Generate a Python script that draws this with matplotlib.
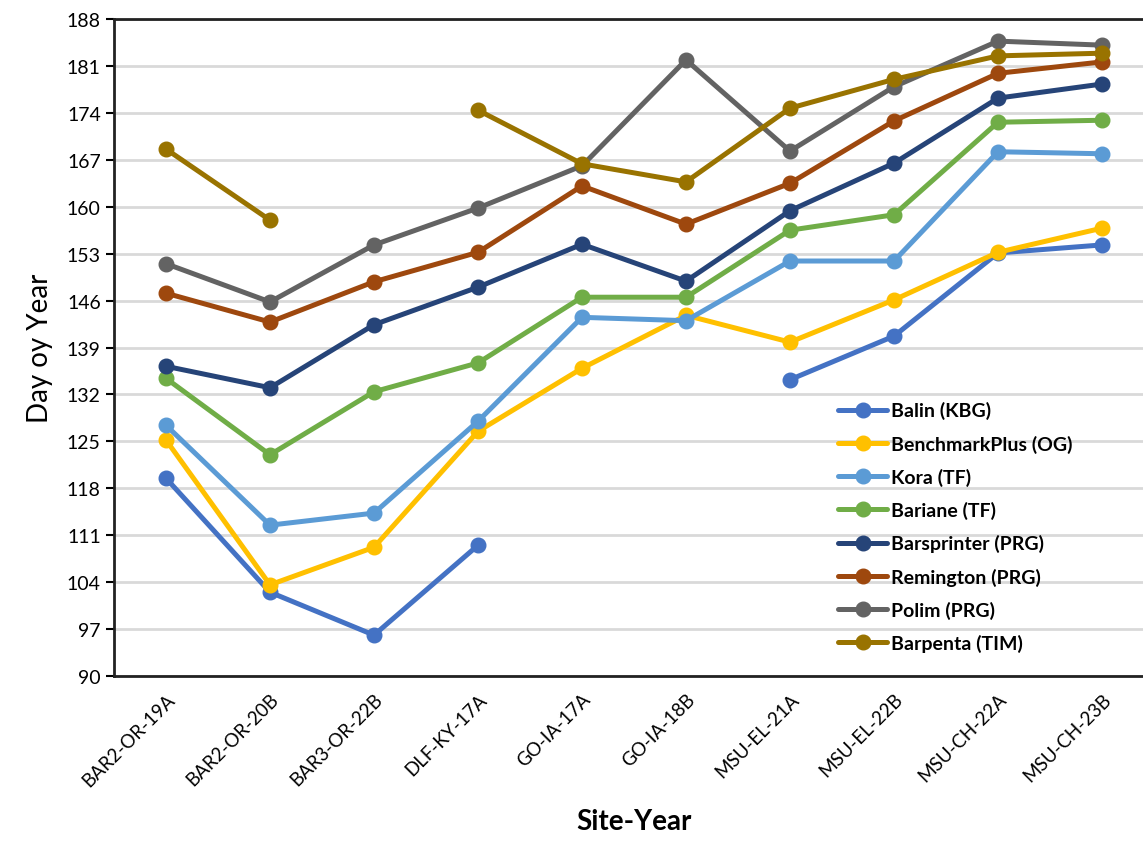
import matplotlib
matplotlib.use('Agg')
import matplotlib.pyplot as plt
import numpy as np

# data (nan = no value)
site_years = ['BAR2-OR-19A', 'BAR2-OR-20B', 'BAR3-OR-22B', 'DLF-KY-17A', 'GO-IA-17A',
              'GO-IA-18B', 'MSU-EL-21A', 'MSU-EL-22B', 'MSU-CH-22A', 'MSU-CH-23B']
nan = np.nan
balin = [119.5, 102.5, 96.1, 109.5, nan, nan, 134.2, 140.7, 153.1, 154.3]
benchmarkplus = [125.2, 103.6, 109.2, 126.5, 135.9, 143.8, 139.8, 146.1, 153.2, 156.8]
kora = [127.4, 112.5, 114.3, 128.0, 143.5, 143.0, 151.9, 151.9, 168.2, 167.9]
bariane = [134.4, 123.0, 132.4, 136.7, 146.5, 146.5, 156.5, 158.8, 172.6, 172.9]
barsprinter = [136.2, 133.0, 142.4, 148.0, 154.4, 148.9, 159.4, 166.5, 176.2, 178.3]
remington = [147.1, 142.8, 148.8, 153.2, 163.1, 157.4, 163.5, 172.8, 179.9, 181.6]
polim = [151.5, 145.8, 154.3, 159.8, 166.1, 181.9, 168.3, 177.9, 184.7, 184.1]
barpenta = [168.6, 158.0, nan, 174.4, 166.4, 163.7, 174.7, 179.0, 182.5, 182.9]

series = [
    ('Balin (KBG)', balin, '#4472C4'),
    ('BenchmarkPlus (OG)', benchmarkplus, '#FFC000'),
    ('Kora (TF)', kora, '#5B9BD5'),
    ('Bariane (TF)', bariane, '#70AD47'),
    ('Barsprinter (PRG)', barsprinter, '#264478'),
    ('Remington (PRG)', remington, '#9E480E'),
    ('Polim (PRG)', polim, '#636363'),
    ('Barpenta (TIM)', barpenta, '#997300'),
]

plt.rcParams['font.family'] = ['Lato', 'DejaVu Sans']

fig = plt.figure(figsize=(11.43, 8.54), dpi=100)
ax = fig.add_axes([114 / 1143, 1 - 677 / 854, 1040 / 1143, 657 / 854])

x = np.arange(len(site_years))
for name, vals, color in series:
    ax.plot(x, vals, color=color, lw=3.6, marker='o', markersize=10.5, label=name,
            solid_capstyle='round')

ax.set_xlim(-0.5, len(site_years) - 0.5)
ax.set_ylim(90, 188)
ax.set_yticks(np.arange(90, 189, 7))
ax.set_xticks(x)
ax.set_xticklabels(site_years, rotation=45, ha='right', rotation_mode='anchor')
ax.tick_params(axis='x', length=0, labelsize=13.5, pad=10)
ax.tick_params(axis='y', length=6, width=1.5, labelsize=14, direction='out')

ax.grid(axis='y', color='#d9d9d9', lw=2)
ax.set_axisbelow(True)
for side in ['left', 'bottom', 'top']:
    ax.spines[side].set_color('#222222')
    ax.spines[side].set_linewidth(2)
ax.spines['right'].set_visible(False)

ax.set_ylabel('Day oy Year', fontsize=20, labelpad=10)
ax.set_xlabel('Site-Year', fontsize=20, fontweight='bold', labelpad=14)

leg = ax.legend(loc='upper left', bbox_to_anchor=(0.689, 0.43), borderaxespad=0,
                frameon=False, prop={'weight': 'bold', 'size': 14}, handlelength=2.5,
                handletextpad=0.2, labelspacing=0.78)

fig.savefig('out.png', dpi=100)
plt.close(fig)
